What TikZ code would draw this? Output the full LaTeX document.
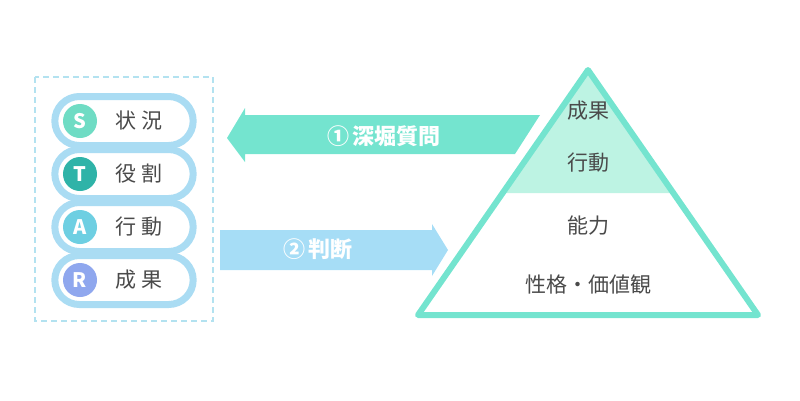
\documentclass[tikz,border=0pt]{standalone}
\usepackage{fontspec}
\usetikzlibrary{shapes.misc}
\setmainfont{Noto Sans CJK JP}
\newfontfamily\jp{Noto Sans CJK JP}

\definecolor{pillblue}{HTML}{AADCF3}
\definecolor{dashblue}{HTML}{B3E2F0}
\definecolor{mint}{HTML}{74E4CF}
\definecolor{mintlight}{HTML}{BDF3E3}
\definecolor{arrowblue}{HTML}{A6DDF6}
\definecolor{textgray}{HTML}{4A4A4A}
\definecolor{cS}{HTML}{6FDCC4}
\definecolor{cT}{HTML}{2FB3A8}
\definecolor{cA}{HTML}{6ECFE2}
\definecolor{cR}{HTML}{8FA7EE}

\begin{document}
\begin{tikzpicture}[x=1pt, y=-1pt,
  pill/.style={draw=pillblue, line width=7pt, fill=white, rounded rectangle,
    minimum width=145pt, minimum height=49pt},
  letter/.style={circle, minimum size=34pt, inner sep=0pt, text=white, font=\jp\bfseries\fontsize{20}{20}\selectfont},
  label/.style={text=textgray, font=\jp\fontsize{21}{21}\selectfont},
  arrowtext/.style={text=white, font=\jp\bfseries\fontsize{22}{22}\selectfont}]
\useasboundingbox (0,0) rectangle (800,400);

% STAR box (left side)
\draw[dashblue, line width=2pt, dash pattern=on 6pt off 4pt] (35,77) rectangle (213,321);

\node[pill] (P1) at (124,121) {};
\node[pill] (P2) at (124,174) {};
\node[pill] (P3) at (124,227) {};
\node[pill] (P4) at (124,280) {};

\node[letter, fill=cS] (S) at (80,121) {S};
\node[letter, fill=cT] (T) at (80,174) {T};
\node[letter, fill=cA] (A) at (80,227) {A};
\node[letter, fill=cR] (R) at (80,280) {R};

\node[label] (S1) at (139,121) {状\hspace{5pt}況};
\node[label] (T1) at (139,174) {役\hspace{5pt}割};
\node[label] (A1) at (139,227) {行\hspace{5pt}動};
\node[label] (R1) at (139,280) {成\hspace{5pt}果};

% Arrows
\fill[mint] (227,138) -- (245,108) -- (245,115) -- (540,115) -- (515,154)
  -- (245,154) -- (245,162) -- cycle;
\node[arrowtext] (Q1) at (384,136) {①\,深堀質問};

\fill[arrowblue] (220,230) -- (432,230) -- (432,224) -- (448,250)
  -- (432,276) -- (432,270) -- (220,270) -- cycle;
\node[arrowtext] (Q2) at (318,249) {②\,判断};

% Pyramid (right side)
\fill[mintlight] (588,70) -- (502.7,193) -- (673.3,193) -- cycle;
\draw[mint, line width=6pt, line join=round] (588,70) -- (418,315) -- (758,315) -- cycle;

\node[label] (L1) at (588,111) {成果};
\node[label] (L2) at (588,163) {行動};
\node[label] (L3) at (588,226) {能力};
\node[label] (L4) at (588,285) {性格・価値観};
\end{tikzpicture}
\end{document}
